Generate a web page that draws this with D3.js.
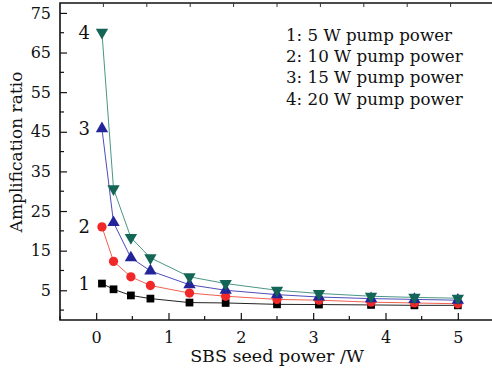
<!DOCTYPE html>
<html>
<head>
<meta charset="utf-8">
<script src="https://cdn.jsdelivr.net/npm/d3@7"></script>
<style>
  body { margin: 0; background: #fff; }
  text { font-family: "DejaVu Serif", serif; fill: #111; }
</style>
</head>
<body>
<svg id="chart" width="492" height="371"></svg>
<script>
var seedPower = [0.08, 0.24, 0.48, 0.75, 1.29, 1.79, 2.5, 3.08, 3.8, 4.4, 5.0];
var ratio5W  = [6.7, 5.25, 3.7, 2.9, 1.9, 1.8, 1.45, 1.4, 1.3, 1.2, 1.2];
var ratio10W = [21.0, 12.3, 8.4, 6.2, 4.3, 3.5, 2.7, 2.5, 2.0, 1.8, 1.6];
var ratio15W = [45.8, 22.1, 13.2, 9.9, 6.4, 5.0, 3.9, 3.3, 2.9, 2.7, 2.5];
var ratio20W = [70.1, 30.6, 18.3, 13.2, 8.4, 6.7, 5.0, 4.2, 3.5, 3.2, 3.0];
var legendLabels = ["1: 5 W pump power", "2: 10 W pump power", "3: 15 W pump power", "4: 20 W pump power"];
var xTicks = [0, 1, 2, 3, 4, 5];
var xMinor = [-0.5, 0.5, 1.5, 2.5, 3.5, 4.5];
var topTicks = [0.1, 0.7, 1.3, 1.9, 2.5, 3.1, 3.7, 4.3, 4.9];
var yTicks = [5, 15, 25, 35, 45, 55, 65, 75];
var yMinor = [0, 10, 20, 30, 40, 50, 60, 70];

var series = [
  {id: "1", values: ratio5W,  marker: "square",   color: "#000000", line: "#222222"},
  {id: "2", values: ratio10W, marker: "circle",   color: "#f02828", line: "#f26050"},
  {id: "3", values: ratio15W, marker: "up",       color: "#24249a", line: "#4d4dba"},
  {id: "4", values: ratio20W, marker: "down",     color: "#136655", line: "#4a9686"}
];

var svg = d3.select("#chart"),
    margin = {top: 3, right: 0, bottom: 51, left: 60},
    width = 434,
    height = 317,
    g = svg.append("g").attr("transform", "translate(" + margin.left + "," + margin.top + ")");

var x = d3.scaleLinear().domain([-0.5, 5.5]).range([0, width]),
    y = d3.scaleLinear().domain([-2.5, 77.5]).range([height, 0]);

// frame
g.append("path")
    .attr("d", "M" + width + ",0H0V" + height + "H" + width)
    .attr("fill", "none").attr("stroke", "#111").attr("stroke-width", 1.6);

// bottom axis
var xAxis = g.append("g").attr("transform", "translate(0," + height + ")")
    .call(d3.axisBottom(x).tickValues(xTicks).tickSize(-7).tickPadding(12).tickFormat(d3.format("d")));
xAxis.select(".domain").remove();
xAxis.selectAll("text").style("font-size", "16px").attr("fill", "#111");
xAxis.selectAll("line").attr("stroke", "#111").attr("stroke-width", 1.2);
g.append("g").selectAll("line").data(xMinor).enter().append("line")
    .attr("x1", function(d) { return x(d); }).attr("x2", function(d) { return x(d); })
    .attr("y1", height).attr("y2", height - 4)
    .attr("stroke", "#111").attr("stroke-width", 1.2);

// top ticks
g.append("g").selectAll("line").data(topTicks).enter().append("line")
    .attr("x1", function(d) { return x(d); }).attr("x2", function(d) { return x(d); })
    .attr("y1", 0).attr("y2", 4)
    .attr("stroke", "#333").attr("stroke-width", 1);

// left axis
var yAxis = g.append("g")
    .call(d3.axisLeft(y).tickValues(yTicks).tickSize(-7).tickPadding(9));
yAxis.select(".domain").remove();
yAxis.selectAll("text").style("font-size", "16px").attr("fill", "#111");
yAxis.selectAll("line").attr("stroke", "#111").attr("stroke-width", 1.2);
g.append("g").selectAll("line").data(yMinor).enter().append("line")
    .attr("y1", function(d) { return y(d); }).attr("y2", function(d) { return y(d); })
    .attr("x1", 0).attr("x2", 4)
    .attr("stroke", "#111").attr("stroke-width", 1.2);

// lines
var line = d3.line()
    .x(function(d, i) { return x(seedPower[i]); })
    .y(function(d) { return y(d); });

var dataLine = g.selectAll(".dataLine")
  .data(series)
  .enter().append("g")
  .attr("class", "dataLine");

dataLine.append("path")
    .attr("d", function(d) { return line(d.values); })
    .attr("fill", "none")
    .attr("stroke", function(d) { return d.line; })
    .attr("stroke-width", 1);

var symbols = {
  square: d3.symbol().type(d3.symbolSquare).size(60),
  circle: d3.symbol().type(d3.symbolCircle).size(68),
  up: d3.symbol().type(d3.symbolTriangle).size(66),
  down: d3.symbol().type(d3.symbolTriangle).size(66)
};

dataLine.each(function(s) {
  d3.select(this).selectAll(".pt")
    .data(s.values)
    .enter().append("path")
    .attr("class", "pt")
    .attr("transform", function(d, i) {
      return "translate(" + x(seedPower[i]) + "," + y(d) + ")" + (s.marker === "down" ? " rotate(180)" : "");
    })
    .attr("d", symbols[s.marker]())
    .attr("fill", s.color);
});

// curve numbers near the first point
dataLine.append("text")
    .attr("x", function(d) { return x(seedPower[0]) - 12; })
    .attr("y", function(d) { return y(d.values[0]); })
    .attr("dy", "0.35em")
    .attr("text-anchor", "end")
    .style("font-size", "18px")
    .text(function(d) { return d.id; });

// legend
g.append("g").selectAll("text").data(legendLabels).enter().append("text")
    .attr("x", 226)
    .attr("y", function(d, i) { return 32 + i * 21.3; })
    .attr("dy", "0.35em")
    .style("font-size", "16.7px")
    .text(function(d) { return d; });

// axis titles
svg.append("text")
    .attr("x", 277).attr("y", 362)
    .attr("text-anchor", "middle")
    .style("font-size", "17.5px")
    .text("SBS seed power /W");

svg.append("text")
    .attr("transform", "translate(22,152) rotate(-90)")
    .attr("text-anchor", "middle")
    .style("font-size", "17px")
    .text("Amplification ratio");
</script>
</body>
</html>
